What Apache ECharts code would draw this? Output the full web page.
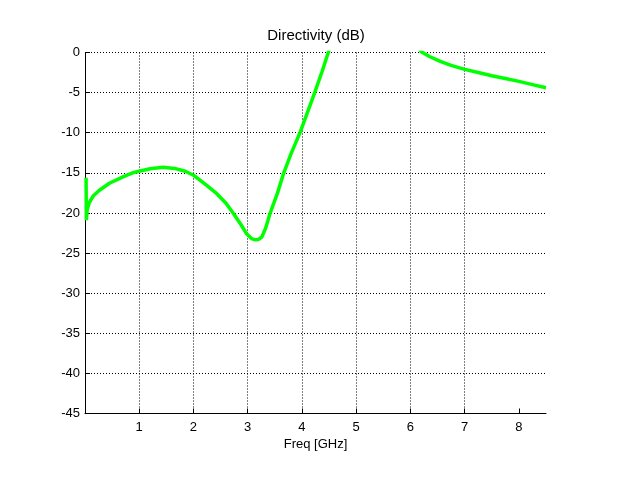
<!DOCTYPE html>
<html>
<head>
<meta charset="utf-8">
<script src="https://cdn.jsdelivr.net/npm/echarts@6/dist/echarts.min.js"></script>
<style>html,body{margin:0;padding:0;background:#fff}#c{width:640px;height:479px}</style>
</head>
<body>
<div id="c"></div>
<script>
const titleText = 'Directivity (dB)';
const xName = 'Freq [GHz]';
const xTicks = [0, 1, 2, 3, 4, 5, 6, 7, 8];
const xLabels = [1, 2, 3, 4, 5, 6, 7, 8];
const freq = [0.02, 0.025, 0.04, 0.08, 0.15, 0.26, 0.45, 0.7, 0.9, 1.0, 1.2, 1.44, 1.65, 1.85, 2.0, 2.12, 2.25, 2.43, 2.6, 2.74, 2.88, 2.98, 3.07, 3.14, 3.2, 3.26, 3.33, 3.41, 3.55, 3.66, 3.8, 3.97, 4.1, 4.24, 4.37, 4.49, 4.6, 4.8, 5.2, 5.6, 6.0, 6.2, 6.35, 6.55, 6.75, 7.0, 7.25, 7.5, 7.75, 8.0, 8.25, 8.5];
const directivity = [-15.6, -20.9, -19.6, -18.7, -17.9, -17.2, -16.3, -15.5, -14.95, -14.8, -14.5, -14.3, -14.45, -14.8, -15.3, -15.9, -16.6, -17.6, -18.8, -20.1, -21.5, -22.6, -23.2, -23.35, -23.3, -23.0, -21.9, -20.1, -17.5, -15.1, -12.6, -9.9, -7.5, -4.9, -2.4, 0.1, 2.0, 4.5, 6.0, 5.0, 2.0, 0.1, -0.5, -1.1, -1.6, -2.1, -2.5, -2.9, -3.25, -3.6, -4.0, -4.4];

const font = 'Arial, "Liberation Sans", sans-serif';
const chart = echarts.init(document.getElementById('c'), null, {renderer: 'canvas'});
chart.setOption({
  animation: false,
  backgroundColor: '#fff',
  title: {
    text: titleText, left: 316, top: 28, padding: 0, textAlign: 'center',
    textStyle: {fontFamily: font, fontSize: 15, fontWeight: 'normal', color: '#000'}
  },
  grid: {left: 85, right: 94, top: 52.5, bottom: 65.5, containLabel: false},
  xAxis: {
    type: 'value', min: 0, max: 8.5, interval: 1,
    name: xName, nameLocation: 'middle', nameGap: 22,
    nameTextStyle: {fontFamily: font, fontSize: 13, color: '#000'},
    axisLine: {show: true, onZero: false, lineStyle: {color: '#000', width: 1}},
    axisTick: {show: true, inside: true, length: 5, customValues: xTicks, lineStyle: {color: '#000'}},
    axisLabel: {fontFamily: font, fontSize: 13, color: '#000', margin: 7, customValues: xLabels},
    splitLine: {show: true, showMaxLine: false, lineStyle: {color: '#000', type: [1, 2], width: 1}}
  },
  yAxis: {
    type: 'value', min: -45, max: 0, interval: 5,
    axisLine: {show: true, onZero: false, lineStyle: {color: '#000', width: 1}},
    axisTick: {show: true, inside: true, length: 5, lineStyle: {color: '#000'}},
    axisLabel: {fontFamily: font, fontSize: 13, color: '#000', margin: 5},
    splitLine: {show: true, lineStyle: {color: '#000', type: [1, 2], width: 1}}
  },
  series: [{
    type: 'line',
    data: freq.map((f, i) => [f, directivity[i]]),
    showSymbol: false, symbol: 'none', clip: true, smooth: false,
    lineStyle: {color: '#00ff00', width: 3.5},
    itemStyle: {color: '#00ff00'}
  }]
});
</script>
</body>
</html>
